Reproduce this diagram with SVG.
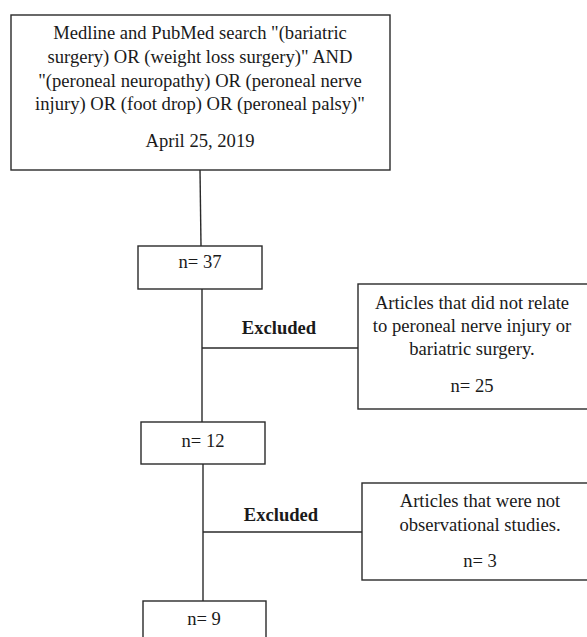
<svg xmlns="http://www.w3.org/2000/svg" width="587" height="637" viewBox="0 0 587 637">
<style>
.box{fill:#fff;stroke:#2a2a2a;stroke-width:1.4}
.ln{stroke:#2a2a2a;stroke-width:1.4;fill:none}
text{font-family:"Liberation Serif","Times New Roman",serif;font-size:18.6px;fill:#1a1a1a;text-anchor:middle}
.b{font-weight:bold}
</style>
<rect width="587" height="637" fill="#fff"/>
<g id="connectors">
<line class="ln" x1="200" y1="170" x2="201" y2="246"/>
<line class="ln" x1="202" y1="289" x2="202" y2="422"/>
<line class="ln" x1="202" y1="348" x2="358" y2="348"/>
<line class="ln" x1="203" y1="464" x2="203" y2="601"/>
<line class="ln" x1="203" y1="532" x2="362" y2="532"/>
</g>
<g id="search">
<rect class="box" x="11" y="15" width="379" height="155"/>
<text x="200" y="39">Medline and PubMed search "(bariatric</text>
<text x="200" y="63">surgery) OR (weight loss surgery)" AND</text>
<text x="200" y="87">"(peroneal neuropathy) OR (peroneal nerve</text>
<text x="200" y="110">injury) OR (foot drop) OR (peroneal palsy)"</text>
<text x="200" y="147">April 25, 2019</text>
</g>
<g id="n37">
<rect class="box" x="138" y="246" width="124" height="43"/>
<text x="200" y="268">n= 37</text>
</g>
<g id="excluded1">
<text class="b" x="279" y="334">Excluded</text>
</g>
<g id="excl1box">
<rect class="box" x="358" y="284" width="230" height="125"/>
<text x="472" y="309">Articles that did not relate</text>
<text x="472" y="332">to peroneal nerve injury or</text>
<text x="472" y="355">bariatric surgery.</text>
<text x="472" y="392">n= 25</text>
</g>
<g id="n12">
<rect class="box" x="141" y="422" width="124" height="42"/>
<text x="203" y="447">n= 12</text>
</g>
<g id="excluded2">
<text class="b" x="281" y="521">Excluded</text>
</g>
<g id="excl2box">
<rect class="box" x="362" y="483" width="226" height="97"/>
<text x="480" y="507">Articles that were not</text>
<text x="480" y="531">observational studies.</text>
<text x="480" y="567">n= 3</text>
</g>
<g id="n9">
<rect class="box" x="143" y="601" width="123" height="40"/>
<text x="204" y="625">n= 9</text>
</g>
</svg>
